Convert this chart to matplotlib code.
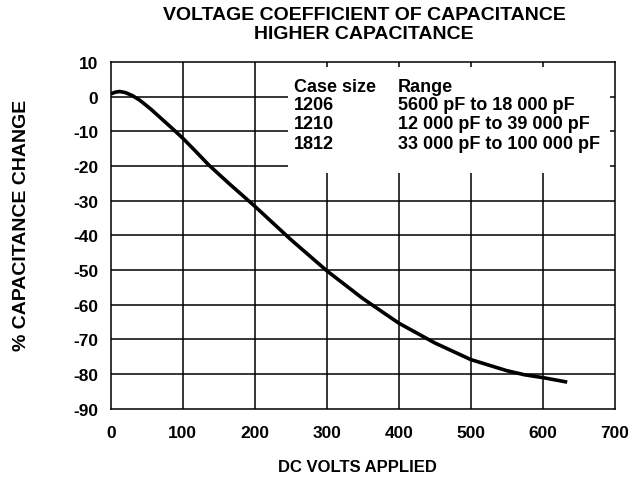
import matplotlib
matplotlib.use("Agg")
import matplotlib.pyplot as plt
from matplotlib.patches import Rectangle

# Curve (DC volts vs % capacitance change)
volts = [0, 6, 12, 20, 30, 40, 55, 70, 85, 100, 118, 136, 165, 200, 250, 300,
         350, 400, 450, 500, 550, 575, 600, 634]
change = [0.8, 1.3, 1.5, 1.2, 0.3, -1.0, -3.5, -6.3, -9.1, -12.0, -15.8, -19.7,
          -25.2, -31.6, -41.2, -50.2, -58.2, -65.3, -71.0, -75.8, -79.0, -80.2,
          -81.0, -82.3]

x_ticks = [0, 100, 200, 300, 400, 500, 600, 700]
y_ticks = [10, 0, -10, -20, -30, -40, -50, -60, -70, -80, -90]

case_sizes = ["1206", "1210", "1812"]
ranges = ["5600 pF to 18 000 pF", "12 000 pF to 39 000 pF", "33 000 pF to 100 000 pF"]

plt.rcParams['font.family'] = ['Liberation Sans', 'DejaVu Sans']
plt.rcParams['font.weight'] = 'bold'
plt.rcParams['axes.unicode_minus'] = False

fig = plt.figure(figsize=(6.41, 4.81), dpi=100)
ax = fig.add_axes([0.173, 0.148, 0.786, 0.721])

# grid
for xv in x_ticks[1:-1]:
    ax.axvline(xv, color='black', lw=1.1, zorder=1)
for yv in y_ticks[1:-1]:
    ax.axhline(yv, color='black', lw=1.1, zorder=1)

# white box behind the table
ax.add_patch(Rectangle((246, -22), 447, 30.7, facecolor='white', edgecolor='none', zorder=2))

ax.plot(volts, change, color='black', lw=2.6, solid_capstyle='butt', zorder=4)

ax.set_xlim(0, 700)
ax.set_ylim(-90, 10)
ax.set_xticks(x_ticks)
ax.set_yticks(y_ticks)
ax.tick_params(length=0, labelsize=12.5)
ax.tick_params(axis='x', pad=12)
ax.tick_params(axis='y', pad=9)
for lab in ax.get_xticklabels() + ax.get_yticklabels():
    lab.set_fontweight('bold')
for sp in ax.spines.values():
    sp.set_linewidth(1.1)
    sp.set_zorder(5)

# table text
fs = 13
ax.text(254, 3.0, "Case size", fontsize=fs, fontweight='bold', va='center', zorder=3)
ax.text(399, 3.0, "Range", fontsize=fs, fontweight='bold', va='center', zorder=3)
for i, (cs, rg) in enumerate(zip(case_sizes, ranges)):
    yy = -2.2 - i * 5.6
    ax.text(254, yy, cs, fontsize=fs, fontweight='bold', va='center', zorder=3)
    ax.text(399, yy, rg, fontsize=fs, fontweight='bold', va='center', zorder=3)

fig.text(0.568, 0.986, "VOLTAGE COEFFICIENT OF CAPACITANCE\nHIGHER CAPACITANCE",
         ha='center', va='top', fontsize=14, fontweight='bold', linespacing=1.15)
fig.text(0.557, 0.028, "DC VOLTS APPLIED", ha='center', va='center',
         fontsize=12, fontweight='bold')
fig.text(0.034, 0.532, "% CAPACITANCE CHANGE", rotation=90, ha='center', va='center',
         fontsize=14, fontweight='bold')

fig.savefig("out.png", dpi=100)
